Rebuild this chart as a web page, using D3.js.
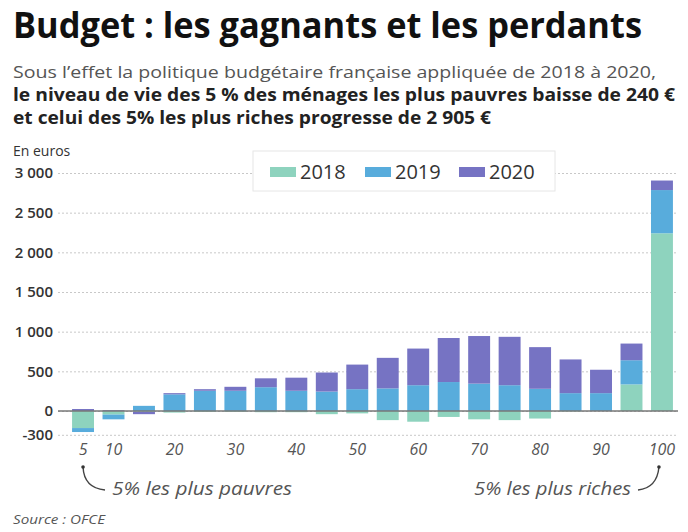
<!DOCTYPE html>
<head>
  <meta charset="utf-8">
  <script src="https://d3js.org/d3.v7.min.js"></script>
  <style>
    body { margin:0; background:#fff; }
    text { font-family: "Open Sans", "Noto Sans", sans-serif; }
    .grid line { stroke: #c8c8c8; stroke-dasharray: 2,2; }
    .yaxis text { font-size: 15px; fill: #333; font-weight: 600; }
    .xaxis text { font-size: 16px; fill: #555; font-style: italic; }
  </style>
</head>

<body>
  <script>
    var categories = [5, 10, 15, 20, 25, 30, 35, 40, 45, 50, 55, 60, 65, 70, 75, 80, 85, 90, 95, 100];
    var v2018 = [-215, -45, -10, -20, -10, -10, -15, -15, -40, -30, -115, -135, -75, -105, -115, -95, -5, 0, 335, 2240];
    var v2019 = [-50, -60, 65, 210, 255, 255, 300, 255, 245, 275, 285, 325, 365, 345, 325, 280, 225, 225, 305, 545];
    var v2020 = [25, 10, -30, 15, 20, 50, 112, 165, 240, 310, 385, 462, 555, 600, 610, 525, 425, 295, 210, 120];
    var seriesNames = ["2018", "2019", "2020"];
    var colors = ["#8ed3be", "#58acdc", "#7673c3"];
    var yTicks = [-300, 0, 500, 1000, 1500, 2000, 2500, 3000];
    var yTickLabels = ["-300", "0", "500", "1 000", "1 500", "2 000", "2 500", "3 000"];
    var xTicks = [5, 10, 20, 30, 40, 50, 60, 70, 80, 90, 100];

    var svg = d3.select("body").append("svg")
      .attr("width", 688)
      .attr("height", 532);

    // titles
    svg.append("text").attr("x", 13).attr("y", 38)
      .attr("font-size", 35).attr("font-weight", 700).attr("fill", "#111")
      .attr("textLength", 629).attr("lengthAdjust", "spacingAndGlyphs")
      .text("Budget : les gagnants et les perdants");
    var sub = [
      { t: "Sous l\u2019effet la politique budgétaire française appliquée de 2018 à 2020,", y: 78, w: 643, b: 400, c: "#555" },
      { t: "le niveau de vie des 5 % des ménages les plus pauvres baisse de 240 €", y: 101, w: 662, b: 700, c: "#222" },
      { t: "et celui des 5% les plus riches progresse de 2 905 €", y: 124, w: 478, b: 700, c: "#222" }
    ];
    sub.forEach(function(s) {
      svg.append("text").attr("x", 13).attr("y", s.y)
        .attr("font-size", 17).attr("font-weight", s.b).attr("fill", s.c)
        .attr("textLength", s.w).attr("lengthAdjust", "spacingAndGlyphs")
        .text(s.t);
    });
    svg.append("text").attr("x", 13).attr("y", 156)
      .attr("font-size", 14).attr("fill", "#333").text("En euros");

    // scales
    var x = d3.scaleBand()
      .domain(categories)
      .range([67.8, 677.2])
      .paddingInner(0.28)
      .paddingOuter(0.14);
    var y = d3.scaleLinear()
      .domain([0, 3000])
      .range([411, 173]);

    var gridLeft = 58, gridRight = 678;

    // y axis + dotted grid
    svg.append("g")
      .attr("class", "grid yaxis")
      .attr("transform", "translate(" + gridLeft + ",0)")
      .call(d3.axisLeft(y)
        .tickValues(yTicks)
        .tickSize(-(gridRight - gridLeft))
        .tickPadding(5)
        .tickFormat(function(d, i) { return yTickLabels[i]; }))
      .call(function(g) { g.select(".domain").remove(); });

    // stacked bars
    var table = categories.map(function(c, i) {
      return { cat: c, "2018": v2018[i], "2019": v2019[i], "2020": v2020[i] };
    });
    var stack = d3.stack()
      .keys(seriesNames)
      .offset(d3.stackOffsetDiverging);

    svg.append("g").selectAll("g")
      .data(stack(table))
      .enter().append("g")
      .attr("fill", function(d, i) { return colors[i]; })
      .selectAll("rect")
      .data(function(d) { return d; })
      .enter().append("rect")
      .attr("x", function(d) { return x(d.data.cat); })
      .attr("y", function(d) { return y(Math.max(d[0], d[1])); })
      .attr("width", x.bandwidth())
      .attr("height", function(d) { return Math.abs(y(d[0]) - y(d[1])); });

    // zero line
    svg.append("line")
      .attr("x1", gridLeft).attr("x2", gridRight)
      .attr("y1", y(0)).attr("y2", y(0))
      .attr("stroke", "#777").attr("stroke-width", 1.5);

    // x axis
    svg.append("g")
      .attr("class", "xaxis")
      .attr("transform", "translate(0,444)")
      .call(d3.axisBottom(x).tickValues(xTicks).tickSize(0).tickPadding(0))
      .call(function(g) { g.select(".domain").remove(); });

    // legend
    var legend = svg.append("g");
    legend.append("rect")
      .attr("x", 253).attr("y", 151).attr("width", 302).attr("height", 40)
      .attr("fill", "#fff").attr("stroke", "#e6e6e6");
    var legX = [270, 365, 459];
    seriesNames.forEach(function(n, i) {
      legend.append("rect")
        .attr("x", legX[i]).attr("y", 167).attr("width", 26).attr("height", 10)
        .attr("fill", colors[i]);
      legend.append("text")
        .attr("x", legX[i] + 30).attr("y", 179)
        .attr("font-size", 20).attr("fill", "#333")
        .text(n);
    });

    // annotations
    var notes = svg.append("g").attr("fill", "none").attr("stroke", "#444").attr("stroke-width", 1.4);
    notes.append("path").attr("d", "M" + (x(5) + x.bandwidth() / 2) + ",467 Q84,488 105,490");
    notes.append("path").attr("d", "M" + (x(100) + x.bandwidth() / 2 - 3) + ",467 Q657,488 638,490");
    svg.append("circle").attr("cx", x(5) + x.bandwidth() / 2).attr("cy", 467).attr("r", 1.8).attr("fill", "#333");
    svg.append("circle").attr("cx", x(100) + x.bandwidth() / 2 - 3).attr("cy", 467).attr("r", 1.8).attr("fill", "#333");

    svg.append("text").attr("x", 112).attr("y", 495)
      .attr("font-size", 18).attr("font-style", "italic").attr("fill", "#555")
      .attr("textLength", 180).attr("lengthAdjust", "spacingAndGlyphs")
      .text("5% les plus pauvres");
    svg.append("text").attr("x", 474).attr("y", 495)
      .attr("font-size", 18).attr("font-style", "italic").attr("fill", "#555")
      .attr("textLength", 157).attr("lengthAdjust", "spacingAndGlyphs")
      .text("5% les plus riches");
    svg.append("text").attr("x", 13).attr("y", 524)
      .attr("font-size", 12).attr("font-style", "italic").attr("fill", "#555")
      .attr("textLength", 92).attr("lengthAdjust", "spacingAndGlyphs")
      .text("Source : OFCE");
  </script>
</body>
